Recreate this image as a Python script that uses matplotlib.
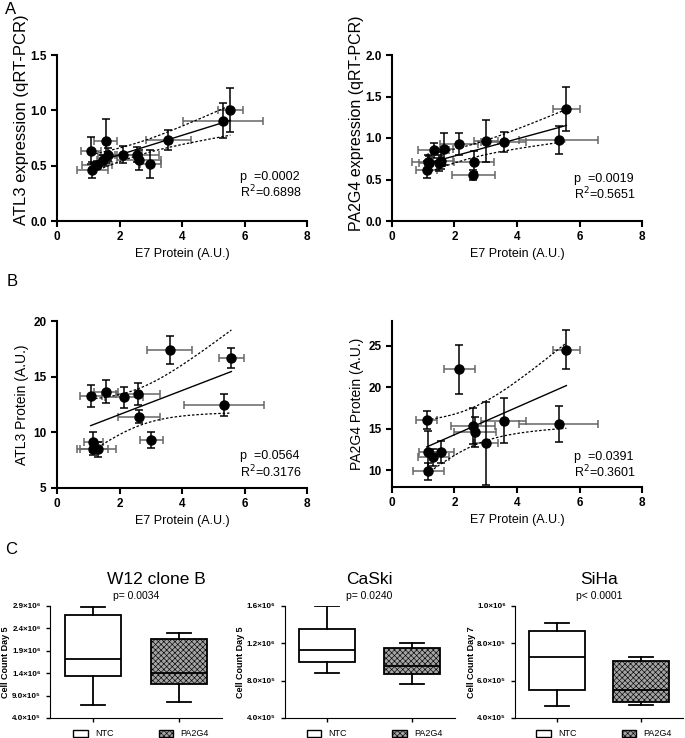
import numpy as np
import matplotlib
matplotlib.use('Agg')
import matplotlib.pyplot as plt
from matplotlib.patches import Patch

plt.rcParams['font.family'] = ['Liberation Sans', 'DejaVu Sans']
plt.rcParams['hatch.linewidth'] = 0.45

# --- panel A: mRNA (qRT-PCR) vs E7 protein ---
atl3_rna_x = [1.08, 1.56, 1.62, 1.48, 1.29, 1.13, 2.12, 2.57, 2.62, 2.99, 3.56, 5.31, 5.55]
atl3_rna_xerr = [0.32, 0.37, 0.30, 0.20, 0.48, 0.50, 0.60, 0.70, 0.70, 0.35, 0.72, 1.27, 0.40]
atl3_rna_y = [0.635, 0.726, 0.60, 0.55, 0.506, 0.46, 0.60, 0.60, 0.548, 0.515, 0.73, 0.907, 1.003]
atl3_rna_yerr = [0.12, 0.20, 0.06, 0.05, 0.04, 0.07, 0.08, 0.07, 0.09, 0.125, 0.09, 0.16, 0.20]

pa2g4_rna_x = [1.11, 1.14, 1.18, 1.33, 1.51, 1.56, 1.66, 2.14, 2.60, 2.63, 3.01, 3.58, 5.33, 5.58]
pa2g4_rna_xerr = [0.33, 0.50, 0.30, 0.50, 0.20, 0.38, 0.30, 0.60, 0.68, 0.65, 0.37, 0.72, 1.27, 0.42]
pa2g4_rna_y = [0.62, 0.715, 0.70, 0.855, 0.70, 0.727, 0.867, 0.928, 0.55, 0.715, 0.964, 0.948, 0.98, 1.35]
pa2g4_rna_yerr = [0.10, 0.08, 0.08, 0.09, 0.10, 0.10, 0.19, 0.13, 0.06, 0.13, 0.25, 0.12, 0.17, 0.27]

# --- panel B: protein vs E7 protein ---
atl3_prot_x = [1.08, 1.57, 2.14, 2.60, 2.63, 3.01, 3.60, 5.33, 5.58, 1.16, 1.14, 1.32]
atl3_prot_xerr = [0.35, 0.38, 0.60, 0.70, 0.68, 0.37, 0.72, 1.28, 0.41, 0.30, 0.50, 0.57]
atl3_prot_y = [13.29, 13.65, 13.15, 13.45, 11.4, 9.31, 17.4, 12.44, 16.7, 9.16, 8.47, 8.47]
atl3_prot_yerr = [1.0, 1.05, 0.93, 1.0, 0.6, 0.7, 1.26, 1.0, 0.9, 0.9, 0.5, 0.7]

pa2g4_prot_x = [1.11, 1.16, 1.32, 1.57, 1.16, 2.15, 2.60, 2.66, 3.01, 3.58, 5.33, 5.58]
pa2g4_prot_xerr = [0.33, 0.30, 0.50, 0.40, 0.50, 0.50, 0.70, 0.68, 0.37, 0.72, 1.27, 0.42]
pa2g4_prot_y = [16.08, 12.2, 11.56, 12.2, 9.88, 22.2, 15.37, 14.6, 13.3, 16.0, 15.6, 24.56]
pa2g4_prot_yerr = [1.1, 2.6, 1.0, 1.3, 1.0, 2.95, 2.2, 1.8, 5.0, 2.7, 2.2, 2.3]

# --- panel C: cell counts (box summaries: whislo, q1, med, q3, whishi) ---
groups = ['NTC', 'PA2G4']
w12_stats = [(6.8e5, 1.33e6, 1.71e6, 2.71e6, 2.88e6), (7.6e5, 1.16e6, 1.40e6, 2.17e6, 2.29e6)]
caski_stats = [(8.83e5, 1.004e6, 1.124e6, 1.355e6, 1.6e6), (7.66e5, 8.69e5, 9.61e5, 1.153e6, 1.2e6)]
siha_stats = [(4.64e5, 5.51e5, 7.28e5, 8.65e5, 9.08e5), (4.7e5, 4.84e5, 5.51e5, 7.07e5, 7.28e5)]

T_CRIT = {10: 2.228, 11: 2.201, 12: 2.179}
SUP = str.maketrans('0123456789', '⁰¹²³⁴⁵⁶⁷⁸⁹')
HATCH_FACE = '#a4a4a4'


def scatter_panel(ax, x, xerr, y, yerr, ylim, yticks, ylabel, p_txt, r2_txt, txt_y,
                  ylabel_size=10, ylabel_pos=0.5):
    x, y = np.array(x), np.array(y)
    ax.errorbar(x, y, xerr=xerr, fmt='none', ecolor='#666666', elinewidth=1.1,
                capsize=3, capthick=1.1)
    ax.errorbar(x, y, yerr=yerr, fmt='none', ecolor='black', elinewidth=1.1,
                capsize=3, capthick=1.1)
    ax.plot(x, y, 'o', color='black', markersize=6.5, zorder=3)

    # linear fit with 95% confidence band
    n = len(x)
    slope, icpt = np.polyfit(x, y, 1)
    xs = np.linspace(x.min(), x.max(), 100)
    fit = slope * xs + icpt
    s = np.sqrt(np.sum((y - (slope * x + icpt)) ** 2) / (n - 2))
    se = s * np.sqrt(1 / n + (xs - x.mean()) ** 2 / np.sum((x - x.mean()) ** 2))
    band = T_CRIT[n - 2] * se
    ax.plot(xs, fit, color='black', lw=1.0)
    ax.plot(xs, fit + band, color='black', lw=0.9, ls=(0, (2, 1.5)))
    ax.plot(xs, fit - band, color='black', lw=0.9, ls=(0, (2, 1.5)))

    ax.set_xlim(0, 8)
    ax.set_xticks([0, 2, 4, 6, 8])
    ax.set_ylim(*ylim)
    ax.set_yticks(yticks)
    for sp in ['top', 'right']:
        ax.spines[sp].set_visible(False)
    for sp in ['left', 'bottom']:
        ax.spines[sp].set_linewidth(1.5)
    ax.tick_params(width=1.5, length=4, labelsize=8.5)
    ax.set_xlabel('E7 Protein (A.U.)', fontsize=9)
    ax.xaxis.set_label_coords(0.5, -0.16)
    ax.set_ylabel(ylabel, fontsize=ylabel_size)
    ax.yaxis.set_label_coords(-0.11, ylabel_pos)
    ax.text(0.73, txt_y[0], p_txt, transform=ax.transAxes, fontsize=9, va='center')
    ax.text(0.73, txt_y[1], r2_txt, transform=ax.transAxes, fontsize=9, va='center')


def sci_label(v, pos):
    exp = int(np.floor(np.log10(v)))
    return f'{v / 10 ** exp:.1f}×10{str(exp).translate(SUP)}'


def box_panel(ax, stats, ylim, step, ylabel, title, p_txt, title_x):
    bstats = [dict(whislo=s[0], q1=s[1], med=s[2], q3=s[3], whishi=s[4], fliers=[])
              for s in stats]
    res = ax.bxp(bstats, positions=[1, 2], widths=0.66, patch_artist=True,
                 showfliers=False, capwidths=0.28,
                 boxprops=dict(linewidth=1.3, edgecolor='black'),
                 whiskerprops=dict(linewidth=1.3), capprops=dict(linewidth=1.3),
                 medianprops=dict(linewidth=1.3, color='black'))
    res['boxes'][0].set_facecolor('white')
    res['boxes'][1].set_facecolor(HATCH_FACE)
    res['boxes'][1].set_hatch('xxxxxx')
    ax.set_xlim(0.5, 2.5)
    ax.set_ylim(*ylim)
    ax.set_yticks(np.arange(ylim[0], ylim[1] + 1, step))
    ax.yaxis.set_major_formatter(plt.FuncFormatter(sci_label))
    ax.set_xticks([1, 2])
    ax.set_xticklabels(['', ''])
    for sp in ['top', 'right']:
        ax.spines[sp].set_visible(False)
    ax.tick_params(width=1, length=3, labelsize=5.8)
    for lab in ax.get_yticklabels():
        lab.set_fontweight('bold')
    ax.set_ylabel(ylabel, fontsize=6.5, fontweight='bold')
    ax.yaxis.set_label_coords(-0.235, 0.5)
    ax.text(title_x, 1.24, title, transform=ax.transAxes, ha='center', va='center',
            fontsize=12.5)
    ax.text(0.5, 1.09, p_txt, transform=ax.transAxes, ha='center', va='center',
            fontsize=7.5)
    handles = [Patch(facecolor='white', edgecolor='black', linewidth=1, label=groups[0]),
               Patch(facecolor=HATCH_FACE, edgecolor='black', hatch='xxxxxx',
                     linewidth=1, label=groups[1])]
    ax.legend(handles=handles, loc='upper center', bbox_to_anchor=(0.53, -0.06),
              ncol=2, frameon=False, fontsize=6.5, handlelength=1.6,
              handleheight=0.8, columnspacing=5, borderpad=0)


fig = plt.figure(figsize=(6.85, 7.38), dpi=100)
W, H = 685, 738


def px_axes(left, top, right, bottom):
    return fig.add_axes([left / W, 1 - bottom / H, (right - left) / W, (bottom - top) / H])


ax1 = px_axes(57, 55, 307, 221)
scatter_panel(ax1, atl3_rna_x, atl3_rna_xerr, atl3_rna_y, atl3_rna_yerr, (0, 1.5),
              [0, 0.5, 1.0, 1.5], 'ATL3 expression (qRT-PCR)', 'p  =0.0002',
              'R$^2$=0.6898', (0.265, 0.175), ylabel_size=12, ylabel_pos=0.61)
ax1.yaxis.set_major_formatter(plt.FormatStrFormatter('%.1f'))

ax2 = px_axes(392, 55, 642, 221)
scatter_panel(ax2, pa2g4_rna_x, pa2g4_rna_xerr, pa2g4_rna_y, pa2g4_rna_yerr, (0, 2.0),
              [0, 0.5, 1.0, 1.5, 2.0], 'PA2G4 expression (qRT-PCR)', 'p  =0.0019',
              'R$^2$=0.5651', (0.255, 0.165), ylabel_size=11.5, ylabel_pos=0.59)
ax2.yaxis.set_major_formatter(plt.FormatStrFormatter('%.1f'))

ax3 = px_axes(57, 321, 307, 488)
scatter_panel(ax3, atl3_prot_x, atl3_prot_xerr, atl3_prot_y, atl3_prot_yerr, (5, 20),
              [5, 10, 15, 20], 'ATL3 Protein (A.U.)', 'p  =0.0564',
              'R$^2$=0.3176', (0.19, 0.096))

ax4 = px_axes(392, 321, 642, 487)
scatter_panel(ax4, pa2g4_prot_x, pa2g4_prot_xerr, pa2g4_prot_y, pa2g4_prot_yerr, (8, 28),
              [10, 15, 20, 25], 'PA2G4 Protein (A.U.)', 'p  =0.0391',
              'R$^2$=0.3601', (0.18, 0.09))

for a in [ax1, ax2, ax3, ax4]:
    for lab in a.get_xticklabels() + a.get_yticklabels():
        lab.set_fontweight('bold')

ax5 = px_axes(50, 606, 222, 718)
box_panel(ax5, w12_stats, (4e5, 2.9e6), 5e5, 'Cell Count Day 5', 'W12 clone B',
          'p= 0.0034', 0.62)
ax6 = px_axes(284.5, 606, 454.5, 718)
box_panel(ax6, caski_stats, (4e5, 1.6e6), 4e5, 'Cell Count Day 5', 'CaSki',
          'p= 0.0240', 0.5)
ax7 = px_axes(515, 606, 683, 718)
box_panel(ax7, siha_stats, (4e5, 1.0e6), 2e5, 'Cell Count Day 7', 'SiHa',
          'p< 0.0001', 0.5)

fig.text(5 / W, 1 - 2 / H, 'A', fontsize=12, va='top')
fig.text(7 / W, 1 - 274 / H, 'B', fontsize=12, va='top')
fig.text(5 / W, 1 - 542 / H, 'C', fontsize=12, va='top')

fig.savefig('out.png', dpi=100)
